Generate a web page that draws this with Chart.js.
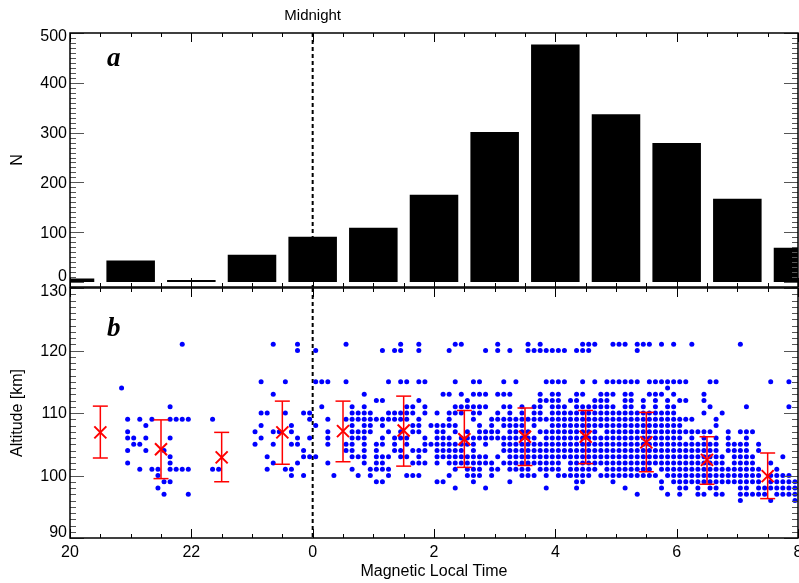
<!DOCTYPE html>
<html>
<head>
<meta charset="utf-8">
<script src="https://cdn.jsdelivr.net/npm/chart.js@4.4.1/dist/chart.umd.min.js"></script>
<style>
  html, body { margin: 0; padding: 0; background: #fff; }
  #wrap { position: relative; width: 799px; height: 583px; }
  #wrap canvas { position: absolute; left: 0; top: 0; }
</style>
</head>
<body>
<div id="wrap">
  <canvas id="countChart" width="799" height="583"></canvas>
  <canvas id="altChart" width="799" height="583"></canvas>
</div>
<script>
// hour bins (MLT, negative = evening before midnight) and event counts
const barHours = [-4, -3, -2, -1, 0, 1, 2, 3, 4, 5, 6, 7, 8]
const barCounts = [7, 43, 4, 55, 91, 109, 175, 301, 477, 337, 279, 167, 69]

// hourly mean altitude with spread
const meanHours = [-3.5, -2.5, -1.5, -0.5, 0.5, 1.5, 2.5, 3.5, 4.5, 5.5, 6.5, 7.5]
const meanAlt = [106.9, 104.2, 102.9, 106.9, 107.1, 107.2, 105.8, 106.2, 106.2, 105.3, 102.5, 99.9]
const altHigh = [111.1, 108.9, 106.9, 111.9, 111.9, 112.7, 110.4, 110.8, 110.4, 110.1, 106.2, 103.6]
const altLow = [102.8, 99.5, 99.0, 101.8, 102.2, 101.5, 101.3, 101.6, 101.9, 100.6, 98.6, 96.3]

// individual events: one row per altitude (km), one group per hour from 20 MLT,
// ten 0.1 h slots per group, 'o' marks an event
const dotAlts = [121, 120, 115, 114, 113, 112, 111, 110, 109, 108, 107, 106, 105, 104, 103, 102, 101, 100, 99, 98, 97, 96]
const dotRows = [
  ".......... ........o. .......... ...o...o.. .....o.... ....o..o.. ...oo..... o....o.o.. ....ooo..o oo.ooo.o.o ..o....... o.........",
  ".......... .......... .......... .......o.. o......... .o.oo..o.. ..o.....o. o.o..ooooo oo.ooo.... ...o...... .......... ..........",
  ".......... .......... .......... .o...o.... ooo..o.... ..o.oo.oo. ...o..oo.. .o.o....oo oo..o.o.oo oooo.ooooo oo...oo... .....o..o.",
  "........o. .......... .......... .......... .......... .......... .......... .......... .......... ........o. .......... ..........",
  ".......... .......... .......... ...o...... ........o. .......... .oo.o.ooo. ooo....o.o o..oo..ooo .oo..ooo.o ....o..... ..........",
  ".......... .......... .......... .......... .......... oo.....o.. .....o.... .......ooo o.oo..ooo. .oo.o.o.o. oo..o..... ..........",
  ".......... ......o... .......... .......... .o....o.o. .....oo.o. ...oooooo. .oo.o.oo.o oo.ooooooo .oo.o.o.oo .....o.... .o......o.",
  ".......... .......... .......... .oo..o..oo ......oooo ..ooooo.o. o.ooo.oo.. o.o.o.oo.o oooooooooo oooooooooo ....o..o.. ..........",
  ".........o .o.o..oooo ...o...... .........o ..o..ooooo oooooo.o.. ..o...o..o oooooooooo oooooooooo oooooooooo ooo...o... ..........",
  ".......... ..o....... .......... .o....o... o.....o.oo .o....oo.o oooo...o.o .oooo.o..o oooooooooo oooooooooo o.....o... ..........",
  ".........o .......... .......... o..oo.o... ..o...oooo ..o.o.oo.. oo.o.o.ooo o.oooo.ooo ooooooo.oo oooooooooo oooooo..o. ooo.......",
  ".........o o.o...o... .......... .o.....o.o ..o...ooo. .o.ooo..o. ooo.oooooo ooooooo.oo oooooooooo oooooooooo o.o.o.o.o. .o........",
  ".......... oo........ .......... o..o..oo.. ..o..oo.o. oo.o.o..oo ooooooo.o. .ooooooooo oooooooooo oooooooooo ooooooo.oo oo.o......",
  ".........o ..o..o.... .......... ........o. .....oo.o. o..oo.ooo. ooooo.o... .ooooooooo oooooooooo oooooooooo ooooooo.oo oo.o......",
  ".......... ......o... .......... ..o.....oo o.....ooo. ooo.oo.o.. ooooooooo. o.oooooooo oooooooooo oooooooooo oooooooo.o ooo....o..",
  ".........o ......o... .......... ...o...o.. ..o.....o. oo....ooo. o.oooooooo .ooooooooo o.oooooooo oooooooooo oooooooo.o ooo..o....",
  ".......... .o.oo.oooo ...oo..... ..o..oo... ......o..o ooo....... ...o.ooo.o o.oooo.ooo o.ooooo.oo oooooo.ooo oooooooooo oooo..o...",
  ".......... ....o..... .......... ......o.o. ...o...o.o ..o..ooo.. ..o..ooo.o ....ooo.o. oooooo.ooo ooooooo.oo oooooooooo oooo.oooo.",
  ".......... .....oo... .......... .......... .......... oo........ oo....o... ..o....... ...oo....o .......o.o oooooooooo oooo.ooooo",
  ".......... ....o..... .......... .......... .......... .......... ...o....o. ........o. ...o...... .o.....o.. oo.o.oo... oo.ooooooo",
  ".......... .....o...o .......... .......... .......... .......... .......... .......... .......... ...o....o. o..oo.oo.. ooooo.oooo",
  ".......... .......... .......... .......... .......... .......... .......... .......... .......... .......... .......... o....o...o",
]

const xTickValues = [-4, -2, 0, 2, 4, 6, 8]
const xTickLabels = ["20", "22", "0", "2", "4", "6", "8"]
const countTicks = [0, 100, 200, 300, 400, 500]
const altTicks = [90, 100, 110, 120, 130]

const FONT = '"Liberation Sans", Arial, Helvetica, sans-serif'
Chart.defaults.font.family = FONT
Chart.defaults.color = "#000"

const dotPoints = []
dotRows.forEach((row, r) => {
  row.split(" ").forEach((grp, g) => {
    for (let j = 0; j < grp.length; j++) {
      if (grp[j] === "o") dotPoints.push({ x: -4 + g + j * 0.1 + 0.05, y: dotAlts[r] })
    }
  })
})

const meanPoints = meanHours.map((h, i) => ({ x: h, y: meanAlt[i] }))
const errPoints = []
meanHours.forEach((h, i) => {
  errPoints.push({ x: h, y: altLow[i] }, { x: h, y: altHigh[i] }, { x: h, y: null })
})

// box frame with inward ticks on all four sides, tick labels kept inside
// the panel height, midnight marker and panel letter
function panelFrame(opts) {
  return {
    id: "panelFrame",
    beforeDatasetsDraw(chart) {
      const { ctx, chartArea: a, scales } = chart
      const mx = scales.x.getPixelForValue(0)
      ctx.save()
      ctx.strokeStyle = "#000"
      ctx.lineWidth = 2
      ctx.setLineDash([4, 3])
      ctx.beginPath()
      ctx.moveTo(mx, a.top)
      ctx.lineTo(mx, a.bottom)
      ctx.stroke()
      ctx.restore()
    },
    afterDraw(chart) {
      const { ctx, chartArea: a, scales } = chart
      const x = scales.x
      const y = scales.y
      ctx.save()

      ctx.strokeStyle = "#555"
      ctx.lineWidth = 1
      ctx.beginPath()
      const n0 = Math.ceil(y.min / opts.yMinor)
      const n1 = Math.floor(y.max / opts.yMinor)
      for (let n = n0; n <= n1; n++) {
        const v = n * opts.yMinor
        const py = Math.round(y.getPixelForValue(v)) + 0.5
        const len = v % opts.yMajor === 0 ? 14 : 6
        ctx.moveTo(a.left, py)
        ctx.lineTo(a.left + len, py)
        ctx.moveTo(a.right, py)
        ctx.lineTo(a.right - len, py)
      }
      ctx.stroke()

      ctx.strokeStyle = "#000"
      ctx.beginPath()
      for (let n = -8; n <= 16; n++) {
        const px = Math.round(x.getPixelForValue(n / 2)) + 0.5
        const len = n % 4 === 0 ? 9 : 4
        ctx.moveTo(px, a.top)
        ctx.lineTo(px, a.top + len)
        ctx.moveTo(px, a.bottom)
        ctx.lineTo(px, a.bottom - len)
      }
      ctx.stroke()

      ctx.lineWidth = 1.5
      ctx.strokeRect(a.left, a.top, a.right - a.left, a.bottom - a.top)

      ctx.fillStyle = "#000"
      ctx.font = "16px " + FONT
      ctx.textAlign = "right"
      ctx.textBaseline = "middle"
      const last = opts.yLabels.length - 1
      opts.yLabels.forEach((v, i) => {
        const shift = i === 0 ? -5 : i === last ? 4 : 1
        ctx.fillText(String(v), a.left - 3, y.getPixelForValue(v) + shift)
      })

      if (opts.xLabels) {
        ctx.textAlign = "center"
        xTickValues.forEach((v, i) => {
          ctx.fillText(xTickLabels[i], x.getPixelForValue(v), a.bottom + 15)
        })
      }

      ctx.font = 'bold italic 27px "Liberation Serif", "Times New Roman", serif'
      ctx.textAlign = "left"
      ctx.textBaseline = "alphabetic"
      ctx.fillText(opts.letter, a.left + 37, opts.letterY)

      if (opts.midnight) {
        ctx.font = "15px " + FONT
        ctx.textAlign = "center"
        ctx.fillText("Midnight", x.getPixelForValue(0), 20)
      }
      ctx.restore()
    },
  }
}

const yAxisFit = (s) => {
  s.width = 70
  s.paddingTop = 0
  s.paddingBottom = 0
}

new Chart(document.getElementById("countChart"), {
  type: "bar",
  data: {
    datasets: [
      {
        data: barHours.map((h, i) => ({ x: h, y: barCounts[i] })),
        backgroundColor: "#000",
        borderWidth: 0,
        barPercentage: 0.8,
        categoryPercentage: 1.0,
      },
    ],
  },
  options: {
    responsive: false,
    animation: false,
    events: [],
    layout: { autoPadding: false, padding: { left: 0, right: 1, top: 33, bottom: 296 } },
    plugins: { legend: { display: false }, tooltip: { enabled: false } },
    scales: {
      x: {
        type: "linear",
        min: -4,
        max: 8,
        offset: false,
        display: false,
        ticks: { stepSize: 1 },
      },
      y: {
        min: -10,
        max: 500,
        afterFit: yAxisFit,
        grid: { display: false, drawTicks: false },
        border: { display: false },
        ticks: { display: false },
        title: { display: true, text: "N", color: "#000", font: { size: 16 }, padding: { top: 8, bottom: 0 } },
      },
    },
  },
  plugins: [panelFrame({ yMinor: 10, yMajor: 100, yLabels: countTicks, letter: "a", letterY: 66, midnight: true })],
})

new Chart(document.getElementById("altChart"), {
  type: "scatter",
  data: {
    datasets: [
      {
        data: meanPoints,
        pointStyle: "crossRot",
        pointRadius: 8.5,
        pointBorderWidth: 2,
        borderColor: "#ff0000",
        backgroundColor: "#ff0000",
        order: 1,
      },
      {
        data: errPoints,
        showLine: true,
        spanGaps: false,
        borderColor: "#ff0000",
        borderWidth: 1.5,
        pointStyle: "line",
        pointRadius: 7.5,
        pointBorderWidth: 1.5,
        pointBorderColor: "#ff0000",
        order: 2,
      },
      {
        data: dotPoints,
        pointStyle: "circle",
        pointRadius: 2.5,
        pointBorderWidth: 0,
        backgroundColor: "#0000ff",
        order: 3,
      },
    ],
  },
  options: {
    responsive: false,
    animation: false,
    events: [],
    layout: { autoPadding: false, padding: { left: 0, right: 1, top: 288, bottom: 0 } },
    plugins: { legend: { display: false }, tooltip: { enabled: false } },
    scales: {
      x: {
        type: "linear",
        min: -4,
        max: 8,
        afterFit: (s) => {
          s.height = 45
          s.paddingLeft = 0
          s.paddingRight = 0
        },
        grid: { display: false, drawTicks: false },
        border: { display: false },
        ticks: { display: false },
        title: {
          display: true,
          text: "Magnetic Local Time",
          color: "#000",
          font: { size: 16 },
          padding: { top: 0, bottom: 2 },
        },
      },
      y: {
        min: 90,
        max: 130,
        afterFit: yAxisFit,
        grid: { display: false, drawTicks: false },
        border: { display: false },
        ticks: { display: false },
        title: {
          display: true,
          text: "Altitude [km]",
          color: "#000",
          font: { size: 16 },
          padding: { top: 8, bottom: 0 },
        },
      },
    },
  },
  plugins: [panelFrame({ yMinor: 1, yMajor: 10, yLabels: altTicks, xLabels: true, letter: "b", letterY: 336, midnight: false })],
})
</script>
</body>
</html>
